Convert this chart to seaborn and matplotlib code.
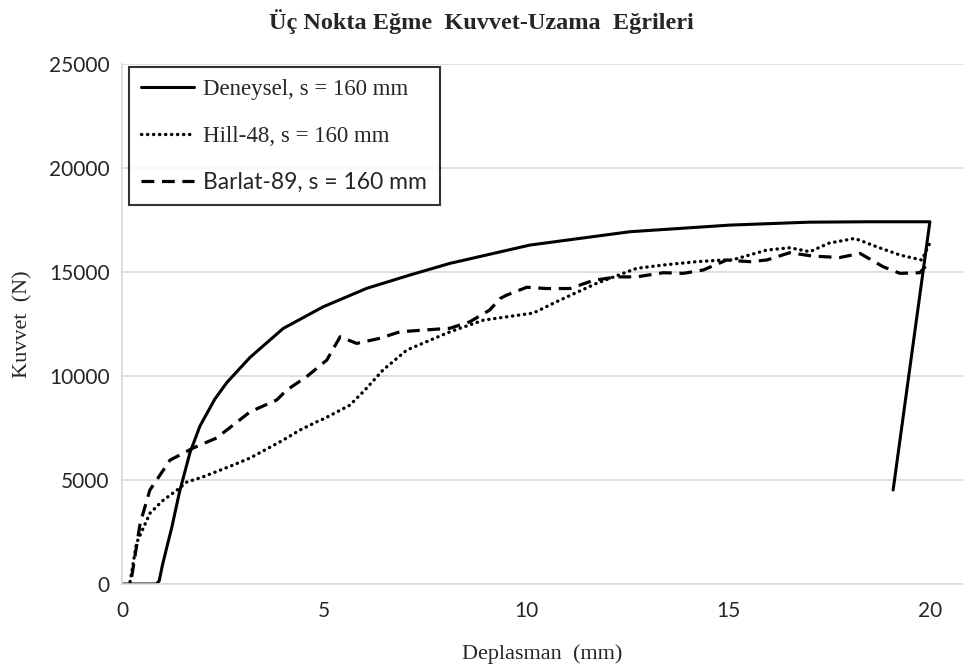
import numpy as np
import pandas as pd
import matplotlib.pyplot as plt
import seaborn as sns

# values (x in mm, force in N)
deneysel_x = [0, 0.85, 0.92, 1.0, 1.1, 1.23, 1.42, 1.68, 1.93, 2.3, 2.6, 3.17, 3.99,
              4.98, 6.06, 7.13, 8.12, 10.1, 12.57, 15.05, 17.0, 18.5, 20.0, 19.09]
deneysel_f = [0, 0, 150, 900, 1700, 2700, 4400, 6300, 7600, 8900, 9700, 10900, 12290,
              13330, 14220, 14860, 15420, 16300, 16940, 17260, 17400, 17420, 17420, 4520]

hill_x = [0.2, 0.36, 0.69, 1.0, 1.35, 1.6, 2.0, 2.75, 3.17, 3.99, 4.4, 4.82, 5.0, 5.64,
          6.0, 6.46, 7.05, 8.12, 8.95, 10.18, 10.84, 11.75, 12.74, 13.4, 14.22, 14.88,
          15.1, 15.96, 16.53, 17.03, 17.5, 18.14, 18.68, 19.26, 19.8, 20.0]
hill_f = [110, 1970, 3400, 4000, 4500, 4900, 5150, 5720, 6060, 6920, 7400, 7800, 7950, 8600,
          9300, 10290, 11250, 12130, 12690, 13030, 13650, 14460, 15180, 15340, 15500, 15580,
          15580, 16060, 16170, 15980, 16390, 16620, 16220, 15820, 15580, 16400]

barlat_x = [0.24, 0.45, 0.69, 1.19, 1.76, 2.34, 3.17, 3.83, 4.08, 4.57, 5.07, 5.4, 5.81,
            6.39, 6.88, 7.46, 8.12, 8.61, 9.1, 9.36, 9.52, 10.02, 10.5, 11.09, 11.67, 12.24,
            12.74, 13.4, 13.9, 14.39, 14.97, 15.54, 15.96, 16.53, 17.1, 17.77, 18.27, 18.84,
            19.26, 19.75, 20.0]
barlat_f = [350, 2930, 4520, 5960, 6540, 7020, 8280, 8850, 9330, 9970, 10770, 11890, 11570,
            11820, 12130, 12210, 12300, 12610, 13170, 13730, 13890, 14270, 14210, 14210, 14600, 14770,
            14770, 14970, 14940, 15100, 15580, 15500, 15580, 15930, 15770, 15700, 15900, 15260,
            14940, 14970, 15500]

labels = ["Deneysel, s = 160 mm", "Hill-48, s = 160 mm", "Barlat-89, s = 160 mm"]

sns.set_style("white")
plt.rcParams['font.family'] = ['Liberation Serif', 'DejaVu Serif']

fig, ax = plt.subplots(figsize=(9.63, 6.68), dpi=100)
fig.subplots_adjust(left=0.1267, right=1.0, bottom=0.1257, top=0.904)

sns.lineplot(x=deneysel_x, y=deneysel_f, sort=False, estimator=None, ax=ax,
             color='black', lw=2.2, label=labels[0])
sns.lineplot(x=hill_x, y=hill_f, sort=False, estimator=None, ax=ax,
             color='black', lw=2.4, linestyle=(0, (0.1, 1.7)),
             dash_capstyle='round', label=labels[1])
sns.lineplot(x=barlat_x, y=barlat_f, sort=False, estimator=None, ax=ax,
             color='black', lw=2.3, linestyle=(0, (4, 2.4)), label=labels[2])

ax.set_xlim(0, 20.82)
ax.set_ylim(0, 25000)
ax.set_xticks([0, 5, 10, 15, 20])
ax.set_yticks(np.arange(0, 25001, 5000))
ax.yaxis.grid(True, color='#d9d9d9', lw=1.2)
ax.xaxis.grid(False)
for side in ['top', 'right']:
    ax.spines[side].set_visible(False)
for side in ['left', 'bottom']:
    ax.spines[side].set_color('#d9d9d9')
    ax.spines[side].set_linewidth(1.2)
ax.tick_params(length=0)
ax.tick_params(axis='y', pad=9)
ax.tick_params(axis='x', pad=12)
for lab in ax.get_xticklabels() + ax.get_yticklabels():
    lab.set_family('Lato')
    lab.set_fontsize(15)
    lab.set_color('#262626')

ax.set_xlabel("Deplasman  (mm)", fontsize=16, labelpad=17)
ax.set_ylabel("Kuvvet  (N)", fontsize=16, labelpad=12)

fig.text(0.5, 1 - 22 / 668, "Üç Nokta Eğme  Kuvvet-Uzama  Eğrileri",
         ha='center', va='center', fontsize=17.5, fontweight='bold')

leg = ax.legend(loc='upper left', bbox_to_anchor=(0.008, 0.995), borderaxespad=0,
                fontsize=16.5, frameon=True, fancybox=False, edgecolor='black',
                handlelength=2.3, labelspacing=1.1, borderpad=0.55, handletextpad=0.4)
leg.get_frame().set_linewidth(1.5)
leg.get_texts()[2].set_family('Lato')

plt.savefig("out.png", dpi=100)
